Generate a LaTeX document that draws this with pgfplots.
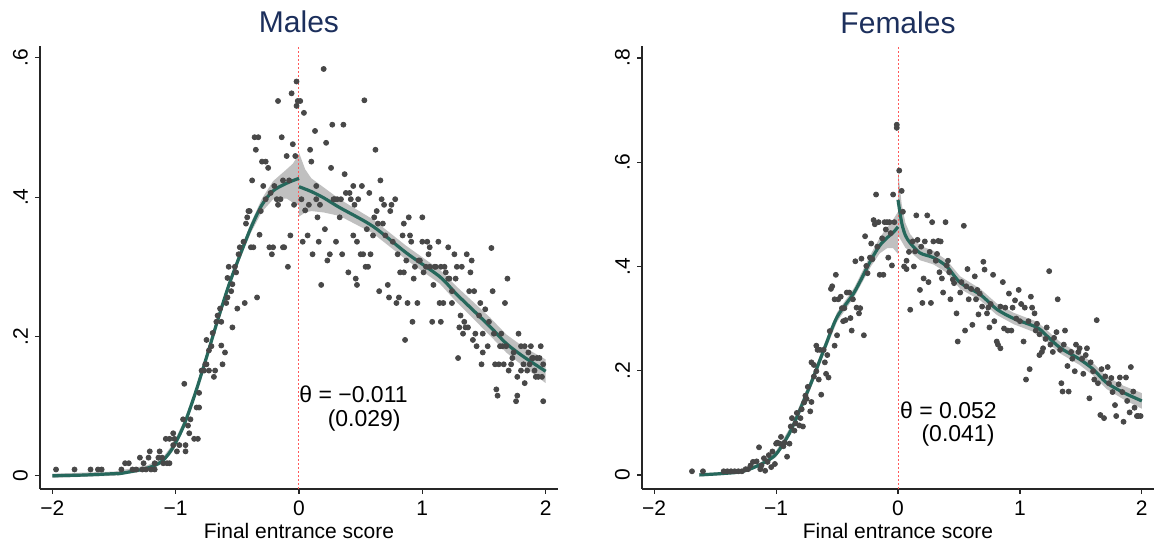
\documentclass[border=0pt]{standalone}
\usepackage{pgfplots}
\pgfplotsset{compat=1.18}
\usepackage{fontspec}
\setmainfont{Liberation Sans}

\definecolor{titlenavy}{RGB}{28,47,92}
\definecolor{dotgray}{RGB}{72,72,72}
\definecolor{fitgreen}{RGB}{38,104,92}
\definecolor{bandgray}{RGB}{192,192,192}
\definecolor{cutred}{RGB}{255,90,90}

\pgfplotsset{
  rdpanel/.style={
    scale only axis,
    height=221.5pt,
    axis lines=left,
    axis line style={-, black!85, line width=0.6pt},
    tick style={black!85, line width=0.6pt},
    tick align=outside,
    major tick length=2.5pt,
    xmin=-2.1, xmax=2.1,
    xtick={-2,-1,0,1,2},
    xticklabels={−2,−1,0,1,2},
    ticklabel style={font=\fontsize{10.5}{12}\selectfont},
    yticklabel style={rotate=90, anchor=south},
    xlabel={Final entrance score},
    xlabel style={font=\fontsize{10.5}{12}\selectfont, yshift=3pt},
    every axis title shift=0pt,
    title style={font=\fontsize{15}{18}\selectfont, text=titlenavy,
      at={(0.5,1)}, anchor=base, yshift=6.5pt},
  },
  dots/.style={only marks, mark=*, mark size=1.25pt, color=dotgray},
  fit/.style={no marks, fitgreen, line width=1.6pt, smooth},
  band/.style={fill=bandgray, draw=none},
  cut/.style={cutred, line width=0.5pt, dash pattern=on 1pt off 1pt},
}
\tikzset{note/.style={anchor=base west, font=\fontsize{11.5}{13}\selectfont, inner sep=0pt}}

\begin{document}
\begin{tikzpicture}
\useasboundingbox (0,0) rectangle (577pt,275pt);

% ---------------- Males ----------------
\begin{axis}[rdpanel, at={(20pt,30.5pt)}, anchor=south west, width=259pt,
  ymin=-0.019, ymax=0.617, ytick={0,0.2,0.4,0.6}, yticklabels={0,.2,.4,.6},
  title={Males}]
\addplot[band] coordinates {(-2,0.003) (-1.5,0.006) (-1.23,0.015) (-1.11,0.025) (-1.02,0.046) (-0.93,0.08) (-0.84,0.125) (-0.75,0.176) (-0.66,0.229) (-0.57,0.279) (-0.48,0.322) (-0.39,0.363) (-0.30,0.398) (-0.21,0.423) (-0.10,0.44) (-0.05,0.448) (0,0.462)
 (0,0.388) (-0.05,0.392) (-0.10,0.398) (-0.21,0.397) (-0.30,0.379) (-0.39,0.349) (-0.48,0.31) (-0.57,0.267) (-0.66,0.217) (-0.75,0.164) (-0.84,0.113) (-0.93,0.068) (-1.02,0.036) (-1.11,0.017) (-1.23,0.007) (-1.5,0.0) (-2,-0.003)} -- cycle;
\addplot[band] coordinates {(0,0.464) (0.05,0.44) (0.1,0.427) (0.2,0.414) (0.33,0.397) (0.6,0.368) (0.87,0.33) (1.14,0.296) (1.27,0.273) (1.41,0.25) (1.55,0.227) (1.68,0.203) (1.82,0.185) (2.0,0.167)
 (2.0,0.133) (1.82,0.157) (1.68,0.177) (1.55,0.201) (1.41,0.226) (1.27,0.251) (1.14,0.276) (0.87,0.31) (0.6,0.348) (0.33,0.373) (0.2,0.378) (0.1,0.38) (0.05,0.378) (0,0.372)} -- cycle;
\addplot[cut] coordinates {(0,-0.019) (0,0.617)};
\addplot[dots] coordinates {
(-1.97,0.009) (-1.82,0.009) (-1.69,0.009) (-1.63,0.009) (-1.60,0.009) (-1.44,0.009) (-1.41,0.018) (-1.38,0.018) (-1.35,0.009) (-1.32,0.009) (-1.29,0.026) (-1.27,0.009) (-1.26,0.018) (-1.24,0.009) (-1.22,0.026) (-1.21,0.035) (-1.20,0.009) (-1.17,0.009) (-1.17,0.018) (-1.14,0.026) (-1.13,0.035) (-1.11,0.026) (-1.10,0.018) (-1.08,0.053) (-1.07,0.018) (-1.05,0.018) (-1.05,0.053) (-1.02,0.061) (-1.02,0.044) (-1.01,0.053) (-0.99,0.035) (-0.97,0.044) (-0.94,0.081) (-0.93,0.132) (-0.92,0.044) (-0.92,0.035) (-0.90,0.072) (-0.89,0.061) (-0.88,0.081) (-0.85,0.053) (-0.83,0.098) (-0.82,0.053) (-0.81,0.098) (-0.81,0.119) (-0.79,0.151) (-0.77,0.151) (-0.76,0.16) (-0.75,0.16) (-0.75,0.195) (-0.73,0.151) (-0.73,0.18) (-0.71,0.186) (-0.70,0.205) (-0.69,0.142) (-0.68,0.151) (-0.67,0.221) (-0.66,0.23) (-0.64,0.24) (-0.63,0.221) (-0.63,0.187) (-0.62,0.16) (-0.60,0.177) (-0.59,0.248) (-0.58,0.256) (-0.58,0.284) (-0.57,0.30) (-0.55,0.265) (-0.54,0.213) (-0.54,0.275) (-0.52,0.30) (-0.51,0.292) (-0.50,0.24) (-0.49,0.318) (-0.48,0.328) (-0.45,0.336) (-0.44,0.248) (-0.43,0.362) (-0.42,0.371) (-0.41,0.38) (-0.40,0.38) (-0.39,0.328) (-0.38,0.424) (-0.37,0.328) (-0.36,0.486) (-0.35,0.468) (-0.34,0.256) (-0.33,0.486) (-0.32,0.346) (-0.31,0.38) (-0.30,0.451) (-0.29,0.416) (-0.27,0.451) (-0.27,0.397) (-0.25,0.442) (-0.24,0.328) (-0.23,0.406) (-0.22,0.318) (-0.21,0.328) (-0.20,0.416) (-0.18,0.397) (-0.17,0.389) (-0.17,0.538) (-0.15,0.397) (-0.14,0.486) (-0.13,0.424) (-0.13,0.328) (-0.12,0.328) (-0.10,0.459) (-0.09,0.30) (-0.08,0.424) (-0.07,0.345) (-0.06,0.549) (-0.05,0.476) (-0.04,0.389) (-0.03,0.459) (-0.02,0.531) (-0.02,0.566) (-0.01,0.538)
(0.01,0.538) (0.02,0.397) (0.03,0.336) (0.04,0.521) (0.05,0.381) (0.07,0.345) (0.08,0.389) (0.09,0.468) (0.10,0.451) (0.11,0.318) (0.13,0.495) (0.14,0.416) (0.14,0.397) (0.15,0.371) (0.16,0.336) (0.17,0.389) (0.18,0.274) (0.20,0.584) (0.21,0.354) (0.22,0.478) (0.23,0.309) (0.25,0.318) (0.26,0.442) (0.27,0.504) (0.28,0.397) (0.29,0.397) (0.30,0.336) (0.31,0.397) (0.33,0.371) (0.34,0.397) (0.35,0.318) (0.36,0.504) (0.37,0.433) (0.38,0.406) (0.40,0.292) (0.41,0.406) (0.42,0.397) (0.44,0.345) (0.44,0.416) (0.45,0.389) (0.46,0.283) (0.47,0.336) (0.47,0.274) (0.48,0.397) (0.50,0.318) (0.51,0.416) (0.52,0.318) (0.53,0.539) (0.54,0.30) (0.55,0.354) (0.56,0.30) (0.57,0.406) (0.58,0.318) (0.60,0.345) (0.61,0.371) (0.62,0.468) (0.63,0.38) (0.64,0.362) (0.65,0.265) (0.66,0.424) (0.67,0.397) (0.68,0.362) (0.69,0.389) (0.70,0.345) (0.72,0.274) (0.73,0.256) (0.74,0.38) (0.75,0.389) (0.76,0.336) (0.78,0.397) (0.79,0.248) (0.80,0.318) (0.81,0.256) (0.82,0.292) (0.84,0.345) (0.85,0.362) (0.85,0.292) (0.86,0.195) (0.87,0.309) (0.88,0.248) (0.89,0.371) (0.90,0.345) (0.91,0.336) (0.92,0.221) (0.93,0.283) (0.94,0.30) (0.96,0.248) (0.97,0.309) (0.98,0.309) (1.00,0.336) (1.00,0.371) (1.01,0.292) (1.03,0.30) (1.04,0.336) (1.05,0.318) (1.06,0.30) (1.06,0.328) (1.08,0.221) (1.09,0.274) (1.10,0.30) (1.11,0.30) (1.13,0.336) (1.14,0.248) (1.15,0.30) (1.15,0.221) (1.17,0.248) (1.18,0.30) (1.19,0.292) (1.21,0.283) (1.21,0.328) (1.22,0.283) (1.24,0.248) (1.24,0.265) (1.26,0.318) (1.27,0.283) (1.28,0.30) (1.29,0.169) (1.30,0.213) (1.31,0.23) (1.32,0.30) (1.33,0.204) (1.34,0.221) (1.35,0.213) (1.36,0.318) (1.37,0.213) (1.38,0.265) (1.39,0.292) (1.40,0.309) (1.41,0.195) (1.42,0.265) (1.43,0.204) (1.44,0.186) (1.46,0.23) (1.47,0.248) (1.48,0.16) (1.49,0.204) (1.49,0.177) (1.51,0.239) (1.53,0.186) (1.54,0.221) (1.56,0.327) (1.57,0.265) (1.58,0.204) (1.59,0.16) (1.60,0.124) (1.61,0.115) (1.62,0.16) (1.63,0.186) (1.64,0.204) (1.65,0.186) (1.66,0.16) (1.67,0.248) (1.68,0.186) (1.69,0.283) (1.70,0.151) (1.72,0.16) (1.73,0.169) (1.74,0.177) (1.76,0.107) (1.77,0.142) (1.77,0.115) (1.78,0.204) (1.80,0.186) (1.80,0.151) (1.82,0.16) (1.83,0.133) (1.83,0.186) (1.85,0.151) (1.86,0.177) (1.87,0.16) (1.88,0.186) (1.89,0.169) (1.90,0.169) (1.91,0.151) (1.92,0.142) (1.93,0.169) (1.94,0.142) (1.95,0.169) (1.96,0.186) (1.97,0.142) (1.98,0.107) (1.98,0.16)};
\addplot[fit] coordinates {(-2,0) (-1.75,0.001) (-1.5,0.003) (-1.44,0.0035) (-1.23,0.011) (-1.11,0.021) (-1.02,0.041) (-0.93,0.074) (-0.84,0.119) (-0.75,0.17) (-0.66,0.223) (-0.57,0.273) (-0.48,0.316) (-0.39,0.356) (-0.30,0.389) (-0.21,0.409) (-0.10,0.42) (0,0.427)};
\addplot[fit] coordinates {(0,0.415) (0.1,0.408) (0.2,0.399) (0.33,0.385) (0.6,0.358) (0.87,0.32) (1.14,0.286) (1.27,0.262) (1.41,0.238) (1.55,0.214) (1.68,0.19) (1.82,0.171) (2.0,0.15)};
\node[note] at (axis cs:0,0.105) {θ = −0.011};
\node[note] at (axis cs:0.23,0.071) {(0.029)};
\end{axis}

% ---------------- Females ----------------
\begin{axis}[rdpanel, at={(321pt,30.5pt)}, anchor=south west, width=256pt,
  ymin=-0.027, ymax=0.823, ytick={0,0.2,0.4,0.6,0.8}, yticklabels={0,.2,.4,.6,.8},
  title={Females}]
\addplot[band] coordinates {(-1.63,0.003) (-1.42,0.006) (-1.27,0.01) (-1.12,0.025) (-1.0,0.046) (-0.88,0.093) (-0.76,0.159) (-0.7,0.193) (-0.6,0.254) (-0.5,0.312) (-0.36,0.359) (-0.22,0.425) (-0.15,0.455) (-0.09,0.475) (-0.04,0.49) (0,0.505)
 (0,0.424) (-0.04,0.435) (-0.09,0.435) (-0.15,0.425) (-0.22,0.401) (-0.36,0.341) (-0.5,0.294) (-0.6,0.236) (-0.7,0.175) (-0.76,0.141) (-0.88,0.077) (-1.0,0.034) (-1.12,0.017) (-1.27,0.004) (-1.42,0.0) (-1.63,-0.003)} -- cycle;
\addplot[band] coordinates {(0,0.585) (0.03,0.52) (0.06,0.484) (0.1,0.462) (0.18,0.44) (0.29,0.43) (0.4,0.412) (0.51,0.381) (0.675,0.357) (0.81,0.329) (0.95,0.311) (1.14,0.294) (1.22,0.278) (1.33,0.255) (1.49,0.233) (1.6,0.215) (1.71,0.189) (1.85,0.171) (2.0,0.157)
 (2.0,0.127) (1.85,0.145) (1.71,0.165) (1.6,0.191) (1.49,0.211) (1.33,0.233) (1.22,0.256) (1.14,0.272) (0.95,0.289) (0.81,0.307) (0.675,0.335) (0.51,0.357) (0.4,0.388) (0.29,0.404) (0.18,0.412) (0.1,0.428) (0.06,0.436) (0.03,0.448) (0,0.46)} -- cycle;
\addplot[cut] coordinates {(0,-0.027) (0,0.823)};
\addplot[dots] coordinates {
(-1.69,0.007) (-1.60,0.007) (-1.43,0.007) (-1.40,0.007) (-1.37,0.007) (-1.34,0.007) (-1.31,0.007) (-1.28,0.007) (-1.25,0.011) (-1.23,0.011) (-1.21,0.018) (-1.19,0.025) (-1.16,0.026) (-1.14,0.053) (-1.13,0.011) (-1.12,0.018) (-1.10,0.032) (-1.09,0.008) (-1.07,0.025) (-1.06,0.038) (-1.04,0.015) (-1.03,0.045) (-1.01,0.021) (-1.00,0.06) (-0.99,0.062) (-0.97,0.06) (-0.96,0.073) (-0.94,0.055) (-0.93,0.062) (-0.91,0.035) (-0.89,0.06) (-0.88,0.093) (-0.87,0.109) (-0.85,0.085) (-0.84,0.099) (-0.83,0.119) (-0.81,0.095) (-0.80,0.109) (-0.79,0.126) (-0.78,0.093) (-0.77,0.139) (-0.76,0.152) (-0.75,0.146) (-0.74,0.169) (-0.72,0.122) (-0.71,0.14) (-0.71,0.216) (-0.69,0.211) (-0.69,0.189) (-0.67,0.199) (-0.67,0.248) (-0.66,0.24) (-0.65,0.183) (-0.64,0.24) (-0.63,0.154) (-0.61,0.24) (-0.60,0.216) (-0.59,0.194) (-0.58,0.23) (-0.57,0.187) (-0.56,0.276) (-0.55,0.357) (-0.54,0.362) (-0.52,0.337) (-0.52,0.248) (-0.51,0.384) (-0.50,0.268) (-0.49,0.337) (-0.47,0.342) (-0.46,0.32) (-0.45,0.295) (-0.44,0.32) (-0.43,0.297) (-0.42,0.35) (-0.40,0.35) (-0.39,0.301) (-0.38,0.277) (-0.37,0.337) (-0.35,0.41) (-0.34,0.321) (-0.32,0.31) (-0.31,0.32) (-0.30,0.415) (-0.28,0.268) (-0.27,0.458) (-0.26,0.401) (-0.25,0.387) (-0.23,0.417) (-0.22,0.444) (-0.21,0.414) (-0.20,0.489) (-0.19,0.481) (-0.18,0.538) (-0.17,0.438) (-0.16,0.485) (-0.15,0.384) (-0.13,0.454) (-0.12,0.384) (-0.11,0.485) (-0.10,0.471) (-0.09,0.485) (-0.08,0.417) (-0.07,0.485) (-0.06,0.464) (-0.05,0.402) (-0.04,0.538) (-0.03,0.485) (-0.01,0.672) (-0.01,0.666)
(0.01,0.584) (0.03,0.545) (0.04,0.505) (0.05,0.40) (0.07,0.411) (0.07,0.395) (0.09,0.428) (0.10,0.317) (0.12,0.448) (0.13,0.40) (0.14,0.429) (0.15,0.498) (0.16,0.451) (0.18,0.355) (0.19,0.438) (0.20,0.33) (0.21,0.377) (0.22,0.448) (0.24,0.498) (0.25,0.37) (0.26,0.428) (0.27,0.33) (0.28,0.485) (0.29,0.448) (0.31,0.411) (0.32,0.424) (0.33,0.449) (0.34,0.389) (0.35,0.448) (0.36,0.377) (0.37,0.35) (0.39,0.485) (0.40,0.402) (0.41,0.411) (0.42,0.389) (0.43,0.337) (0.45,0.375) (0.46,0.368) (0.48,0.31) (0.49,0.256) (0.51,0.35) (0.52,0.37) (0.54,0.478) (0.55,0.277) (0.56,0.362) (0.57,0.395) (0.58,0.337) (0.60,0.357) (0.61,0.288) (0.63,0.381) (0.64,0.337) (0.65,0.355) (0.66,0.308) (0.67,0.348) (0.69,0.323) (0.70,0.409) (0.71,0.394) (0.73,0.31) (0.74,0.321) (0.75,0.283) (0.76,0.328) (0.78,0.384) (0.79,0.295) (0.81,0.256) (0.82,0.25) (0.84,0.243) (0.84,0.323) (0.86,0.37) (0.87,0.281) (0.88,0.321) (0.90,0.277) (0.91,0.348) (0.93,0.277) (0.94,0.321) (0.96,0.335) (0.97,0.30) (0.99,0.355) (1.00,0.295) (1.01,0.328) (1.03,0.256) (1.04,0.321) (1.05,0.183) (1.07,0.295) (1.08,0.203) (1.09,0.342) (1.10,0.321) (1.12,0.31) (1.13,0.277) (1.14,0.29) (1.16,0.23) (1.16,0.27) (1.18,0.236) (1.19,0.243) (1.21,0.261) (1.22,0.283) (1.24,0.391) (1.25,0.25) (1.27,0.236) (1.28,0.263) (1.30,0.274) (1.31,0.337) (1.33,0.24) (1.34,0.176) (1.35,0.16) (1.36,0.25) (1.37,0.277) (1.39,0.209) (1.40,0.16) (1.42,0.236) (1.43,0.223) (1.45,0.199) (1.46,0.25) (1.48,0.236) (1.49,0.243) (1.51,0.223) (1.52,0.194) (1.54,0.23) (1.55,0.243) (1.57,0.147) (1.58,0.216) (1.60,0.199) (1.61,0.183) (1.63,0.297) (1.64,0.176) (1.66,0.115) (1.67,0.203) (1.69,0.109) (1.70,0.189) (1.72,0.207) (1.73,0.176) (1.75,0.186) (1.76,0.159) (1.78,0.134) (1.79,0.113) (1.81,0.174) (1.82,0.187) (1.84,0.159) (1.85,0.102) (1.87,0.187) (1.88,0.142) (1.90,0.12) (1.91,0.207) (1.93,0.16) (1.94,0.129) (1.96,0.113) (1.97,0.113) (1.99,0.113)};
\addplot[fit] coordinates {(-1.63,0) (-1.42,0.003) (-1.27,0.007) (-1.12,0.021) (-1.0,0.04) (-0.88,0.085) (-0.76,0.15) (-0.7,0.184) (-0.6,0.245) (-0.5,0.303) (-0.36,0.35) (-0.22,0.413) (-0.15,0.44) (-0.09,0.455) (-0.04,0.465) (0,0.476)};
\addplot[fit] coordinates {(0,0.528) (0.03,0.484) (0.06,0.46) (0.10,0.445) (0.18,0.426) (0.29,0.417) (0.40,0.40) (0.51,0.369) (0.675,0.346) (0.81,0.318) (0.95,0.30) (1.14,0.283) (1.22,0.267) (1.33,0.244) (1.49,0.222) (1.60,0.203) (1.71,0.177) (1.85,0.158) (2.0,0.142)};
\node[note] at (axis cs:0.015,0.109) {θ = 0.052};
\node[note] at (axis cs:0.19,0.065) {(0.041)};
\end{axis}
\end{tikzpicture}
\end{document}
